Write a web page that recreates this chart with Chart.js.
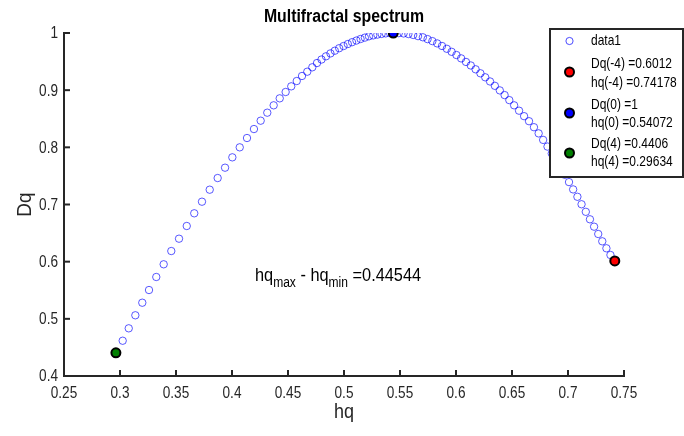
<!DOCTYPE html>
<html>
<head>
<meta charset="utf-8">
<script src="https://cdn.jsdelivr.net/npm/chart.js@4.4.0/dist/chart.umd.min.js"></script>
<style>
  html, body { margin: 0; padding: 0; background: #fff; }
  #wrap { width: 684px; height: 436px; }
</style>
</head>
<body>
<div id="wrap"><canvas id="mfChart" width="684" height="436"></canvas></div>
<script>
// spectrum points (left end q=4 ... right end q=-4)
const hq = [
  0.29634, 0.3024, 0.3078, 0.3137, 0.3199, 0.3259, 0.3324, 0.3390, 0.3458, 0.3527,
  0.3596, 0.3663, 0.3732, 0.3801, 0.3872, 0.3938, 0.4003, 0.4069, 0.4134, 0.4196,
  0.4256, 0.4315, 0.4372, 0.4426, 0.4479, 0.4529, 0.4578, 0.4625, 0.4672, 0.4717,
  0.4759, 0.4799, 0.4839, 0.4879, 0.4918, 0.4957, 0.4996, 0.5034, 0.5072, 0.5111,
  0.5148, 0.5186, 0.5223, 0.5261, 0.5298, 0.5336, 0.5373, 0.5411, 0.5440,
  0.5489, 0.5532, 0.5575, 0.5618, 0.5661, 0.5704, 0.5746, 0.5789, 0.5832, 0.5875,
  0.5918, 0.5961, 0.6004, 0.6046, 0.6089, 0.6132, 0.6175, 0.6218, 0.6261, 0.6304,
  0.6347, 0.6391, 0.6434, 0.6476, 0.6519, 0.6563, 0.6608, 0.6652, 0.6696, 0.6738,
  0.6778, 0.6817, 0.6855, 0.6894, 0.6932, 0.6971, 0.7009, 0.7046, 0.7084, 0.7121,
  0.7159, 0.7196, 0.7233, 0.7270, 0.7306, 0.7343, 0.7379, 0.74178
];
const Dq = [
  0.4406, 0.4617, 0.4834, 0.5062, 0.5282, 0.5504, 0.5732, 0.5954, 0.6186, 0.6402,
  0.6624, 0.6846, 0.7049, 0.7259, 0.7463, 0.7644, 0.7825, 0.8000, 0.8163, 0.8320,
  0.8466, 0.8606, 0.8735, 0.8857, 0.8968, 0.9067, 0.9160, 0.9248, 0.9323, 0.9400,
  0.9475, 0.9536, 0.9592, 0.9643, 0.9690, 0.9734, 0.9772, 0.9807, 0.9839, 0.9868,
  0.9895, 0.9919, 0.9942, 0.9958, 0.9972, 0.9984, 0.9993, 0.9998, 1.0,
  0.9998, 0.9992, 0.9982, 0.9966, 0.9945, 0.9925, 0.9893, 0.9858, 0.9818, 0.9773,
  0.9724, 0.9671, 0.9615, 0.9556, 0.9494, 0.9432, 0.9365, 0.9295, 0.9225, 0.9152,
  0.9076, 0.8996, 0.8914, 0.8826, 0.8735, 0.8641, 0.8545, 0.8457, 0.8352, 0.8244,
  0.8130, 0.8013, 0.7892, 0.7770, 0.7646, 0.7520, 0.7392, 0.7264, 0.7135, 0.7004,
  0.6872, 0.6741, 0.6612, 0.6484, 0.6356, 0.6234, 0.6117, 0.6012
];

// highlighted points q=-4, q=0, q=4
const markHq = [0.74178, 0.5440, 0.29634];
const markDq = [0.6012, 1.0, 0.4406];
const markText = [
  ["Dq(-4) =0.6012", "hq(-4) =0.74178"],
  ["Dq(0) =1", "hq(0) =0.54072"],
  ["Dq(4) =0.4406", "hq(4) =0.29634"]
];
const markFill = ["#ff0000", "#0000ff", "#007f00"];

const xTicks = [0.25, 0.3, 0.35, 0.4, 0.45, 0.5, 0.55, 0.6, 0.65, 0.7, 0.75];
const yTicks = [0.4, 0.5, 0.6, 0.7, 0.8, 0.9, 1];
const spreadValue = "0.44544";

const FONT = '"Liberation Sans", Arial, sans-serif';
const AXIS = "#262626";

// no narrow Helvetica here, so squeeze the text horizontally
function narrowText(ctx, text, x, y, sx, align) {
  ctx.save();
  ctx.translate(x, y);
  ctx.scale(sx, 1);
  ctx.textAlign = align;
  ctx.fillText(text, 0, 0);
  ctx.restore();
}

const fmt = v => String(+v.toFixed(2));

const matlabLook = {
  id: "matlabLook",
  afterDraw(chart) {
    const { ctx, chartArea: a, scales: { x, y } } = chart;
    ctx.save();

    // inward tick marks
    ctx.strokeStyle = AXIS;
    ctx.lineWidth = 2;
    xTicks.forEach(v => {
      const px = x.getPixelForValue(v);
      ctx.beginPath(); ctx.moveTo(px, a.bottom); ctx.lineTo(px, a.bottom - 6); ctx.stroke();
    });
    yTicks.forEach(v => {
      const py = y.getPixelForValue(v);
      ctx.beginPath(); ctx.moveTo(a.left, py); ctx.lineTo(a.left + 6, py); ctx.stroke();
    });

    // tick labels
    ctx.fillStyle = AXIS;
    ctx.textBaseline = "middle";
    ctx.font = "16px " + FONT;
    xTicks.forEach(v => narrowText(ctx, fmt(v), x.getPixelForValue(v), a.bottom + 18, 0.85, "center"));
    yTicks.forEach(v => narrowText(ctx, fmt(v), a.left - 6, y.getPixelForValue(v) + 1, 0.85, "right"));

    // title + axis labels
    ctx.fillStyle = "#000";
    ctx.font = "bold 18px " + FONT;
    narrowText(ctx, "Multifractal spectrum", (a.left + a.right) / 2, 17, 0.88, "center");
    ctx.fillStyle = AXIS;
    ctx.font = "20px " + FONT;
    narrowText(ctx, "hq", (a.left + a.right) / 2, 412, 0.9, "center");
    ctx.save();
    ctx.translate(25, (a.top + a.bottom) / 2);
    ctx.rotate(-Math.PI / 2);
    narrowText(ctx, "Dq", 0, 0, 0.95, "center");
    ctx.restore();

    // hq_max - hq_min annotation
    const parts = [["hq", 0], ["max", 1], [" - hq", 0], ["min", 1], [" =" + spreadValue, 0]];
    let tx = x.getPixelForValue(0.4205);
    const ty = y.getPixelForValue(0.566);
    ctx.textBaseline = "alphabetic";
    ctx.fillStyle = "#000";
    parts.forEach(([t, sub]) => {
      ctx.font = (sub ? "14px " : "19px ") + FONT;
      narrowText(ctx, t, tx, ty + (sub ? 6 : 0), 0.86, "left");
      tx += ctx.measureText(t).width * 0.86;
    });

    // legend box
    const bx = 550, by = 29, bw = 133, bh = 148;
    ctx.fillStyle = "#fff";
    ctx.fillRect(bx, by, bw, bh);
    ctx.strokeStyle = AXIS;
    ctx.lineWidth = 2;
    ctx.strokeRect(bx, by, bw, bh);

    ctx.font = "15px " + FONT;
    ctx.textBaseline = "middle";
    ctx.beginPath();
    ctx.arc(569.5, 41, 3.6, 0, Math.PI * 2);
    ctx.strokeStyle = "rgba(0,0,255,0.7)";
    ctx.lineWidth = 1;
    ctx.stroke();
    ctx.fillStyle = "#000";
    narrowText(ctx, "data1", 591, 41, 0.8, "left");

    const rows = [[72, 64, 83], [113, 105, 123], [153, 144, 162]];
    rows.forEach(([my, t1, t2], i) => {
      ctx.beginPath();
      ctx.arc(569.5, my, 4.5, 0, Math.PI * 2);
      ctx.fillStyle = markFill[i];
      ctx.fill();
      ctx.strokeStyle = "#000";
      ctx.lineWidth = 2;
      ctx.stroke();
      ctx.fillStyle = "#000";
      narrowText(ctx, markText[i][0], 591, t1, 0.8, "left");
      narrowText(ctx, markText[i][1], 591, t2, 0.8, "left");
    });

    ctx.restore();
  }
};

new Chart(document.getElementById("mfChart"), {
  type: "scatter",
  data: {
    datasets: [
      ...markHq.map((v, i) => ({
        label: markText[i].join(" "),
        data: [{ x: v, y: markDq[i] }],
        pointRadius: 4.5,
        pointBorderWidth: 2,
        pointBorderColor: "#000",
        pointBackgroundColor: markFill[i],
        order: 0
      })),
      {
        label: "data1",
        data: hq.map((v, i) => ({ x: v, y: Dq[i] })),
        pointRadius: 3.7,
        pointBorderWidth: 1,
        pointBorderColor: "rgba(0,0,255,0.65)",
        pointBackgroundColor: "rgba(0,0,0,0)",
        order: 1
      }
    ]
  },
  options: {
    responsive: false,
    animation: false,
    devicePixelRatio: 1,
    layout: { padding: { left: 0, top: 33, right: 60, bottom: 0 } },
    plugins: {
      legend: { display: false },
      tooltip: { enabled: false }
    },
    scales: {
      x: {
        type: "linear",
        min: 0.25,
        max: 0.75,
        afterBuildTicks: s => { s.ticks = xTicks.map(v => ({ value: v })); },
        afterFit: s => { s.height = 60; },
        ticks: { display: false },
        grid: { display: false, drawTicks: false },
        border: { display: true, color: AXIS, width: 2 }
      },
      y: {
        type: "linear",
        min: 0.4,
        max: 1,
        afterBuildTicks: s => { s.ticks = yTicks.map(v => ({ value: v })); },
        afterFit: s => { s.width = 64; },
        ticks: { display: false },
        grid: { display: false, drawTicks: false },
        border: { display: true, color: AXIS, width: 2 }
      }
    }
  },
  plugins: [matlabLook]
});
</script>
</body>
</html>
